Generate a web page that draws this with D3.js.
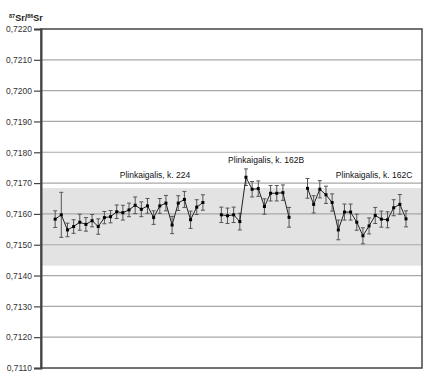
<!DOCTYPE html>
<html>
<head>
<meta charset="utf-8">
<script src="https://cdn.jsdelivr.net/npm/d3@7"></script>
<style>
  body { margin: 0; background: #fff; }
  text { font-family: "Liberation Sans", Arial, sans-serif; }
</style>
</head>
<body>
<script>
var w = 428;
var h = 379;

// data
var groupNames = ["Plinkaigalis, k. 224", "Plinkaigalis, k. 162B", "Plinkaigalis, k. 162C"];
var groupStart = [0, 27, 41];   // analysis slot where each group begins
var values224 = [0.71583, 0.71597, 0.71548, 0.71559, 0.71573, 0.71566, 0.71578, 0.71559, 0.71588, 0.71591,
  0.71607, 0.71604, 0.71613, 0.71628, 0.71615, 0.71626, 0.71588, 0.71626, 0.71635, 0.71564,
  0.71635, 0.71647, 0.71581, 0.71622, 0.71637];
var errors224 = [0.00027, 0.00073, 0.00022, 0.00022, 0.00026, 0.00022, 0.0002, 0.00025, 0.0002, 0.0002,
  0.00022, 0.00024, 0.00022, 0.00027, 0.00024, 0.00024, 0.00022, 0.00024, 0.00025, 0.00028,
  0.00024, 0.00026, 0.00028, 0.00024, 0.00025];
var values162B = [0.71597, 0.71594, 0.71597, 0.71575, 0.71719, 0.71680, 0.71682, 0.71624, 0.71667, 0.71667,
  0.71669, 0.71589];
var errors162B = [0.00025, 0.00025, 0.00025, 0.00027, 0.00027, 0.00025, 0.00025, 0.00025, 0.00025, 0.00025,
  0.00025, 0.00032];
var values162C = [0.71683, 0.71631, 0.71680, 0.71662, 0.71637, 0.71548, 0.71606, 0.71606, 0.71573, 0.71529,
  0.71561, 0.71595, 0.71583, 0.71581, 0.71620, 0.71631, 0.71584];
var errors162C = [0.00032, 0.00028, 0.00028, 0.00028, 0.00028, 0.00032, 0.00026, 0.00026, 0.00026, 0.00026,
  0.00026, 0.00026, 0.00026, 0.00026, 0.00026, 0.00032, 0.00026];
var bandRange = [0.71432, 0.71684];
var yTicks = [0.711, 0.712, 0.713, 0.714, 0.715, 0.716, 0.717, 0.718, 0.719, 0.720, 0.721, 0.722];
var labelAnchor = [[10.5, 0.71716], [28.1, 0.71764], [45.6, 0.71718]];

var groups = [
  { name: groupNames[0], start: groupStart[0], v: values224, e: errors224 },
  { name: groupNames[1], start: groupStart[1], v: values162B, e: errors162B },
  { name: groupNames[2], start: groupStart[2], v: values162C, e: errors162C }
];
groups.forEach(function(g) {
  g.pts = g.v.map(function(d, i) { return { i: g.start + i, v: d, e: g.e[i] }; });
});

var pLeft = 41, pRight = 422, pTop = 29, pBottom = 368;

var x = d3.scaleLinear().domain([-2.3, 59.6]).range([pLeft, pRight]);
var y = d3.scaleLinear().domain([0.711, 0.722]).range([pBottom, pTop]);

var svg = d3.select("body")
.append("svg")
.attr("width", w)
.attr("height", h);

// reference band
svg.append("rect")
.attr("x", pLeft)
.attr("width", pRight - pLeft)
.attr("y", y(bandRange[1]))
.attr("height", y(bandRange[0]) - y(bandRange[1]))
.attr("fill", "#e3e3e3");

// gridlines
svg.selectAll("line.grid")
.data(yTicks.slice(1, -1))
.enter()
.append("line")
.attr("class", "grid")
.attr("x1", pLeft)
.attr("x2", pRight)
.attr("y1", function(d) { return y(d); })
.attr("y2", function(d) { return y(d); })
.attr("stroke", "#a8a8a8")
.attr("stroke-width", 1.2);

// frame
svg.append("rect")
.attr("x", pLeft)
.attr("y", pTop)
.attr("width", pRight - pLeft)
.attr("height", pBottom - pTop)
.attr("fill", "none")
.attr("stroke", "#444")
.attr("stroke-width", 1.5);

// y axis
var yAxis = d3.axisLeft(y)
.tickValues(yTicks)
.tickSize(7)
.tickPadding(2)
.tickFormat(function(d) { return d3.format(".4f")(d).replace(".", ","); });

var ax = svg.append("g")
.attr("transform", "translate(" + pLeft + ",0)")
.call(yAxis);
ax.select(".domain").attr("stroke", "#444").attr("stroke-width", 2);
ax.selectAll(".tick line").attr("stroke", "#444").attr("stroke-width", 1.2);
ax.selectAll(".tick text")
.attr("font-family", "Liberation Sans, Arial, sans-serif")
.attr("font-size", "8.5px")
.attr("fill", "#333");

// y axis title
var title = svg.append("text")
.attr("x", 9)
.attr("y", 21)
.attr("font-size", "9px")
.attr("font-weight", "bold")
.attr("fill", "#222");
title.append("tspan").attr("font-size", "5.5px").attr("dy", -3).text("87");
title.append("tspan").attr("dy", 3).text("Sr/");
title.append("tspan").attr("font-size", "5.5px").attr("dy", -3).text("86");
title.append("tspan").attr("dy", 3).text("Sr");

// series
var line = d3.line()
.x(function(d) { return x(d.i); })
.y(function(d) { return y(d.v); });

groups.forEach(function(g, gi) {
  var gg = svg.append("g");

  gg.selectAll("line.err")
  .data(g.pts)
  .enter()
  .append("line")
  .attr("x1", function(d) { return x(d.i); })
  .attr("x2", function(d) { return x(d.i); })
  .attr("y1", function(d) { return y(d.v - d.e); })
  .attr("y2", function(d) { return y(d.v + d.e); })
  .attr("stroke", "#555")
  .attr("stroke-width", 1);

  [-1, 1].forEach(function(s) {
    gg.selectAll(null)
    .data(g.pts)
    .enter()
    .append("line")
    .attr("x1", function(d) { return x(d.i) - 2; })
    .attr("x2", function(d) { return x(d.i) + 2; })
    .attr("y1", function(d) { return y(d.v + s * d.e); })
    .attr("y2", function(d) { return y(d.v + s * d.e); })
    .attr("stroke", "#555")
    .attr("stroke-width", 1);
  });

  gg.append("path")
  .datum(g.pts)
  .attr("d", line)
  .attr("fill", "none")
  .attr("stroke", "#222")
  .attr("stroke-width", 1);

  gg.selectAll("rect")
  .data(g.pts)
  .enter()
  .append("rect")
  .attr("x", function(d) { return x(d.i) - 1.5; })
  .attr("y", function(d) { return y(d.v) - 1.5; })
  .attr("width", 3)
  .attr("height", 3)
  .attr("fill", "#000");

  svg.append("text")
  .attr("x", x(labelAnchor[gi][0]))
  .attr("y", y(labelAnchor[gi][1]))
  .attr("font-size", "8.5px")
  .attr("fill", "#111")
  .text(g.name);
});
</script>
</body>
</html>
